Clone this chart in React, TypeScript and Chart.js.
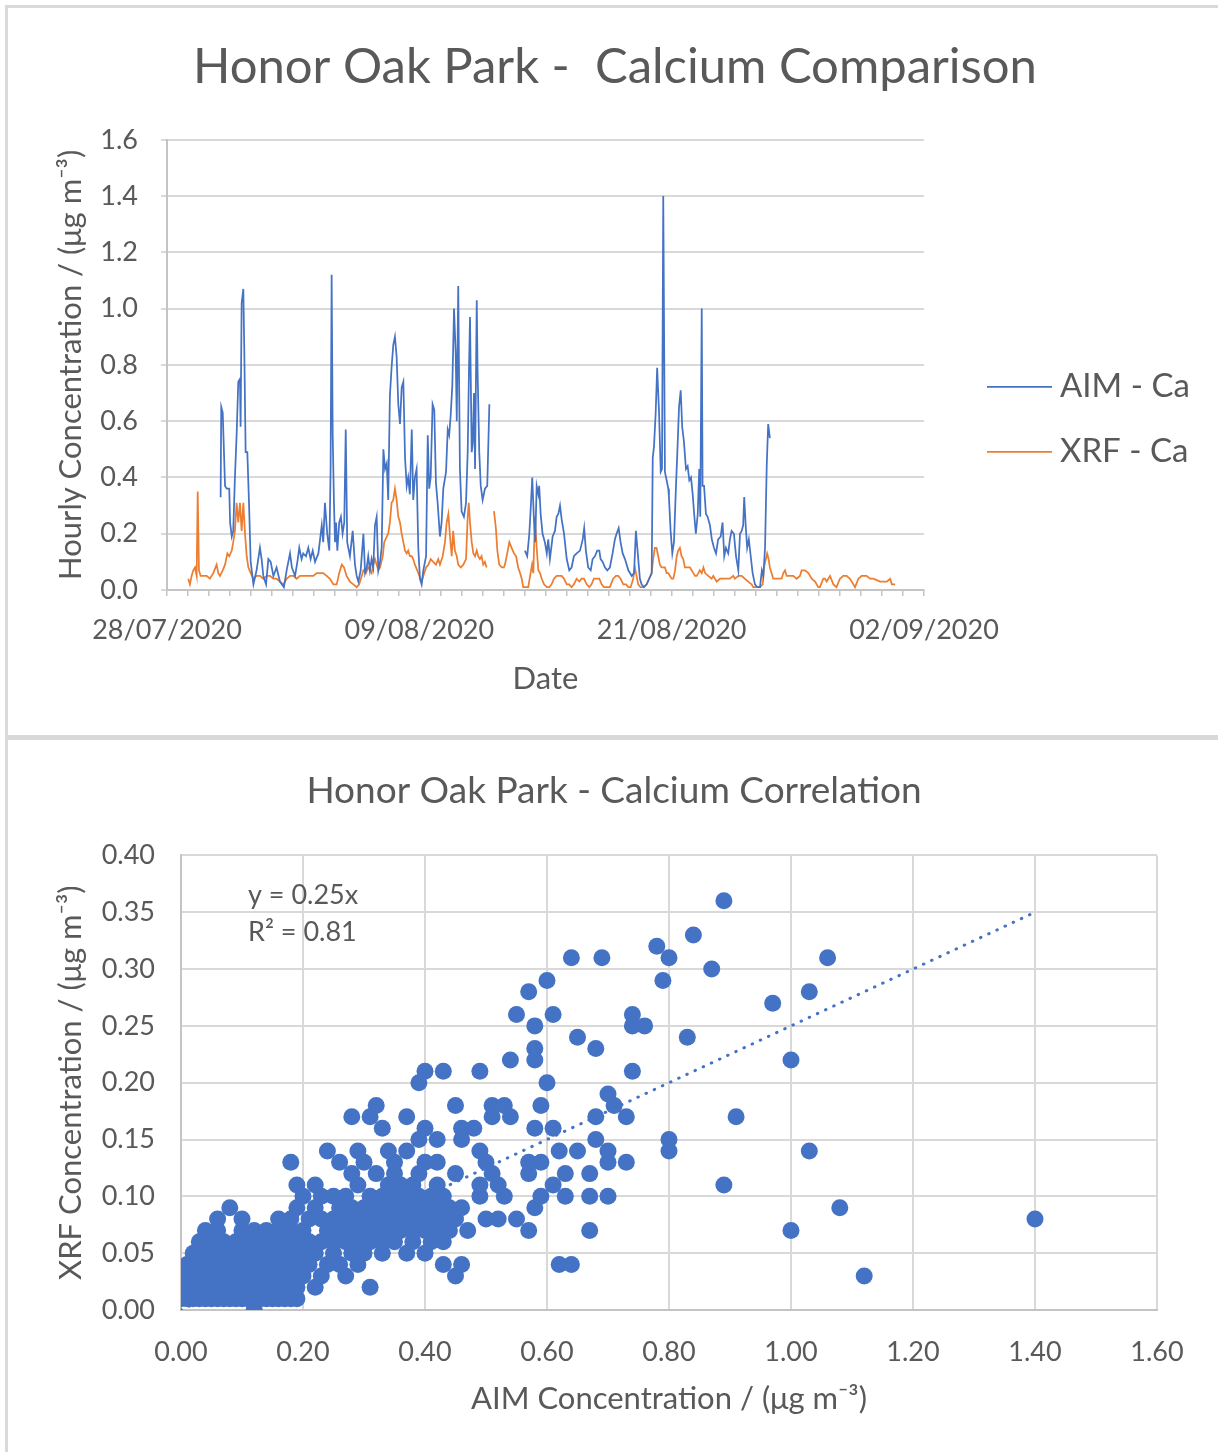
import React, { useEffect, useRef } from 'react';
import { Chart, registerables } from 'chart.js';

Chart.register(...registerables);

const FONT = 'Lato, "Open Sans", "DejaVu Sans", sans-serif';
const TEXT = '#595959';
const GRID = '#d9d9d9';
const AXIS = '#c4c4c4';
const BLUE = '#4472C4';
const ORANGE = '#ED7D31';

// ---------- Top chart: time series (days since 28/07/2020) ----------
const dateTickDays = [0, 12, 24, 36];
const dateTickLabels = ['28/07/2020', '09/08/2020', '21/08/2020', '02/09/2020'];

const aimDays = [
  2.55, 2.58, 2.65, 2.76, 2.84, 2.96, 3.0, 3.08, 3.15, 3.23, 3.31, 3.39, 3.47, 3.5, 3.55, 3.63, 3.68, 3.74, 3.82, 3.9,
  3.98, 4.11, 4.26, 4.42, 4.5, 4.58, 4.71, 4.82, 4.93, 5.06, 5.21, 5.37, 5.56, 5.69, 5.85, 5.94, 6.09, 6.2, 6.29, 6.4,
  6.48, 6.61, 6.72, 6.83, 6.93, 7.04, 7.2, 7.36, 7.43, 7.51, 7.62, 7.72, 7.78, 7.83, 7.88, 7.94, 7.99, 8.04, 8.1, 8.19,
  8.27, 8.35, 8.43, 8.5, 8.57, 8.7, 8.83, 8.94, 9.02, 9.1, 9.21, 9.34, 9.42, 9.5, 9.57, 9.65, 9.73, 9.81, 9.89, 9.97,
  10.05, 10.13, 10.21, 10.29, 10.37, 10.45, 10.52, 10.6, 10.68, 10.76, 10.84, 10.92, 11.0, 11.08, 11.16, 11.24, 11.32, 11.4, 11.47, 11.55,
  11.64, 11.71, 11.79, 11.87, 11.95, 12.03, 12.11, 12.19, 12.32, 12.4, 12.47, 12.54, 12.63, 12.71, 12.79, 12.87, 12.98, 13.06, 13.14, 13.27,
  13.35, 13.42, 13.49, 13.57, 13.65, 13.73, 13.78, 13.85, 13.93, 14.01, 14.12, 14.22, 14.3, 14.36, 14.41, 14.49, 14.54, 14.6, 14.65, 14.73,
  14.77, 14.85, 14.92, 15.01, 15.12, 15.23, 15.33, 16.2,
  17.02, 17.13, 17.23, 17.29, 17.37, 17.45, 17.51, 17.58, 17.66, 17.7, 17.77, 17.86, 17.97, 18.06, 18.13, 18.21, 18.34, 18.45, 18.53, 18.61,
  18.69, 18.77, 18.88, 19.01, 19.13, 19.24, 19.35, 19.48, 19.64, 19.77, 19.84, 19.92, 20.03, 20.15, 20.24, 20.35, 20.46, 20.56, 20.62, 20.72,
  20.83, 20.94, 21.06, 21.19, 21.3, 21.38, 21.48, 21.57, 21.67, 21.78, 21.94, 22.1, 22.21, 22.3, 22.41, 22.49, 22.57, 22.68, 22.81, 22.93,
  23.05, 23.1, 23.16, 23.24, 23.31, 23.4, 23.48, 23.54, 23.6, 23.68, 23.76, 23.84, 23.87, 23.95, 24.03, 24.11, 24.2, 24.27, 24.35, 24.43,
  24.5, 24.58, 24.68, 24.76, 24.84, 24.92, 25.0, 25.07, 25.15, 25.24, 25.31, 25.36, 25.43, 25.47, 25.54, 25.63, 25.71, 25.82, 25.91, 26.01,
  26.11, 26.21, 26.33, 26.42, 26.5, 26.58, 26.69, 26.77, 26.85, 26.96, 27.06, 27.17, 27.25, 27.33, 27.4, 27.45, 27.52, 27.59, 27.67, 27.76,
  27.85, 27.96, 28.07, 28.2, 28.29, 28.36, 28.44, 28.52, 28.59, 28.67,
];
const aimValues = [
  0.33, 0.65, 0.63, 0.37, 0.36, 0.36, 0.24, 0.19, 0.21, 0.4, 0.55, 0.74, 0.75, 0.58, 1.02, 1.07, 0.83, 0.49, 0.49, 0.31,
  0.1, 0.02, 0.07, 0.15, 0.11, 0.05, 0.02, 0.11, 0.1, 0.05, 0.08, 0.03, 0.01, 0.07, 0.13, 0.08, 0.05, 0.1, 0.15, 0.11,
  0.13, 0.12, 0.15, 0.11, 0.14, 0.1, 0.13, 0.23, 0.17, 0.31, 0.2, 0.14, 0.43, 1.12, 0.55, 0.31, 0.17, 0.24, 0.14, 0.24,
  0.26, 0.2, 0.24, 0.57, 0.17, 0.12, 0.21, 0.09, 0.05, 0.03, 0.07, 0.2, 0.06, 0.08, 0.12, 0.07, 0.11, 0.08, 0.23, 0.26,
  0.07, 0.1, 0.15, 0.5, 0.43, 0.45, 0.32, 0.69, 0.79, 0.87, 0.9, 0.83, 0.66, 0.59, 0.72, 0.74, 0.47, 0.37, 0.4, 0.34,
  0.57, 0.32, 0.4, 0.43, 0.15, 0.04, 0.02, 0.07, 0.12, 0.55, 0.36, 0.4, 0.66, 0.64, 0.38, 0.31, 0.19, 0.24, 0.36, 0.42,
  0.57, 0.55, 0.62, 0.73, 1.0, 0.84, 0.6, 1.08, 0.43, 0.28, 0.26, 0.31, 0.49, 0.78, 0.97, 0.49, 0.52, 0.7, 0.43, 1.03,
  0.78, 0.49, 0.37, 0.32, 0.36, 0.37, 0.66, null,
  0.14, 0.12, 0.2, 0.28, 0.4, 0.25, 0.17, 0.37, 0.34, 0.37, 0.27, 0.2, 0.17, 0.13, 0.18, 0.11, 0.19, 0.21, 0.26, 0.27,
  0.3, 0.25, 0.2, 0.11, 0.07, 0.08, 0.12, 0.13, 0.14, 0.18, 0.22, 0.14, 0.08, 0.07, 0.11, 0.12, 0.14, 0.14, 0.11, 0.1,
  0.08, 0.07, 0.08, 0.13, 0.18, 0.2, 0.22, 0.17, 0.13, 0.11, 0.07, 0.05, 0.06, 0.21, 0.11, 0.04, 0.02, 0.01, 0.02, 0.04,
  0.06, 0.47, 0.51, 0.63, 0.79, 0.63, 0.42, 0.43, 1.4, 0.42, 0.39, 0.36, 0.33, 0.21, 0.13, 0.17, 0.36, 0.49, 0.65, 0.71,
  0.58, 0.53, 0.43, 0.44, 0.39, 0.4, 0.34, 0.27, 0.2, 0.27, 0.43, 0.26, 1.0, 0.37, 0.37, 0.27, 0.26, 0.23, 0.18, 0.15,
  0.13, 0.18, 0.19, 0.24, 0.12, 0.15, 0.13, 0.18, 0.21, 0.2, 0.12, 0.07, 0.2, 0.21, 0.23, 0.33, 0.23, 0.15, 0.18, 0.12,
  0.06, 0.02, 0.01, 0.01, 0.07, 0.05, 0.15, 0.44, 0.59, 0.54,
];

const xrfDays = [
  1.01, 1.09, 1.17, 1.25, 1.33, 1.41, 1.46, 1.52, 1.6, 1.73, 1.89, 2.04, 2.2, 2.36, 2.44, 2.52, 2.65, 2.76, 2.87, 2.96,
  3.08, 3.15, 3.23, 3.31, 3.39, 3.47, 3.55, 3.63, 3.71, 3.79, 3.87, 3.98, 4.11, 4.26, 4.42, 4.58, 4.74, 4.9, 5.06, 5.21,
  5.37, 5.53, 5.69, 5.85, 6.01, 6.17, 6.32, 6.48, 6.64, 6.8, 6.96, 7.12, 7.28, 7.43, 7.59, 7.75, 7.91, 8.07, 8.19, 8.31,
  8.42, 8.54, 8.7, 8.86, 9.02, 9.14, 9.26, 9.34, 9.46, 9.57, 9.73, 9.81, 9.89, 10.05, 10.13, 10.26, 10.33, 10.45, 10.52, 10.6,
  10.68, 10.76, 10.84, 10.92, 11.0, 11.08, 11.16, 11.24, 11.32, 11.4, 11.47, 11.55, 11.64, 11.71, 11.79, 11.9, 12.0, 12.11, 12.19, 12.32,
  12.43, 12.54, 12.66, 12.79, 12.9, 12.98, 13.11, 13.22, 13.3, 13.38, 13.46, 13.54, 13.61, 13.69, 13.78, 13.85, 13.97, 14.09, 14.22, 14.3,
  14.35, 14.41, 14.49, 14.57, 14.65, 14.73, 14.8, 14.88, 14.96, 15.04, 15.12, 15.2, 15.38,
  15.55, 15.64, 15.71, 15.8, 15.92, 16.02, 16.07, 16.18, 16.28, 16.39, 16.5, 16.6, 16.7, 16.79, 16.87, 16.94, 17.07, 17.18, 17.29, 17.36,
  17.42, 17.5, 17.58, 17.66, 17.74, 17.82, 17.93, 18.06, 18.18, 18.29, 18.4, 18.53, 18.65, 18.77, 18.88, 19.01, 19.13, 19.24, 19.35, 19.48,
  19.61, 19.72, 19.83, 19.96, 20.08, 20.19, 20.3, 20.43, 20.56, 20.67, 20.78, 20.91, 21.06, 21.22, 21.35, 21.46, 21.57, 21.7, 21.83, 21.94,
  22.05, 22.17, 22.25, 22.33, 22.41, 22.52, 22.65, 22.81, 22.93, 23.05, 23.12, 23.2, 23.28, 23.36, 23.44, 23.52, 23.6, 23.68, 23.76, 23.84,
  23.92, 24.0, 24.08, 24.16, 24.24, 24.31, 24.39, 24.47, 24.55, 24.63, 24.71, 24.87, 24.95, 25.03, 25.11, 25.19, 25.27, 25.34, 25.43, 25.51,
  25.59, 25.74, 25.9, 25.98, 26.14, 26.3, 26.45, 26.61, 26.77, 26.93, 27.01, 27.17, 27.33, 27.48, 27.64, 27.8, 27.88, 28.04, 28.2, 28.33,
  28.39, 28.48, 28.54, 28.61, 28.67, 28.75, 28.83, 28.99, 29.15, 29.23, 29.31, 29.39, 29.47, 29.62, 29.78, 29.94, 30.1, 30.18, 30.34, 30.5,
  30.66, 30.82, 30.97, 31.05, 31.21, 31.29, 31.37, 31.53, 31.69, 31.84, 32.0, 32.16, 32.32, 32.48, 32.64, 32.72, 32.88, 33.03, 33.27, 33.43,
  33.59, 33.91, 34.23, 34.39, 34.47, 34.63,
];
const xrfValues = [
  0.04, 0.02, 0.05, 0.07, 0.08, 0.05, 0.35, 0.07, 0.05, 0.05, 0.05, 0.04, 0.06, 0.09, 0.06, 0.05, 0.07, 0.09, 0.13, 0.12,
  0.14, 0.17, 0.21, 0.31, 0.24, 0.31, 0.21, 0.31, 0.2, 0.12, 0.08, 0.06, 0.04, 0.05, 0.05, 0.04, 0.05, 0.05, 0.04, 0.04,
  0.03, 0.02, 0.04, 0.05, 0.05, 0.04, 0.05, 0.05, 0.05, 0.05, 0.05, 0.06, 0.06, 0.06, 0.05, 0.04, 0.02, 0.02, 0.06, 0.09,
  0.08, 0.05, 0.03, 0.02, 0.01, 0.02, 0.05, 0.07, 0.06, 0.08, 0.06, 0.09, 0.11, 0.07, 0.08, 0.12, 0.17, 0.19, 0.2, 0.24,
  0.31, 0.32, 0.36, 0.32, 0.26, 0.24, 0.2, 0.17, 0.14, 0.13, 0.14, 0.12, 0.12, 0.11, 0.09, 0.07, 0.05, 0.03, 0.05, 0.08,
  0.09, 0.11, 0.1, 0.09, 0.11, 0.09, 0.12, 0.17, 0.24, 0.27, 0.19, 0.12, 0.21, 0.14, 0.12, 0.09, 0.08, 0.09, 0.11, 0.26,
  0.31, 0.24, 0.17, 0.13, 0.12, 0.14, 0.12, 0.11, 0.12, 0.09, 0.1, 0.08, null,
  0.28, 0.22, 0.14, 0.09, 0.08, 0.08, 0.09, 0.13, 0.17, 0.15, 0.13, 0.12, 0.08, 0.06, 0.04, 0.01, 0.01, 0.01, 0.06, 0.09,
  0.06, 0.26, 0.15, 0.07, 0.06, 0.04, 0.02, 0.01, 0.01, 0.02, 0.04, 0.05, 0.05, 0.05, 0.04, 0.02, 0.02, 0.01, 0.02, 0.04,
  0.03, 0.04, 0.04, 0.02, 0.01, 0.02, 0.04, 0.04, 0.04, 0.02, 0.01, 0.01, 0.01, 0.04, 0.05, 0.05, 0.04, 0.02, 0.02, 0.01,
  0.01, 0.04, 0.08, 0.05, 0.02, 0.01, 0.01, 0.02, 0.04, 0.06, 0.11, 0.15, 0.15, 0.12, 0.09, 0.08, 0.08, 0.08, 0.06, 0.06,
  0.05, 0.04, 0.04, 0.07, 0.12, 0.14, 0.15, 0.12, 0.11, 0.08, 0.08, 0.08, 0.07, 0.06, 0.05, 0.05, 0.06, 0.07, 0.06, 0.08,
  0.06, 0.05, 0.04, 0.05, 0.03, 0.04, 0.04, 0.04, 0.04, 0.05, 0.04, 0.05, 0.05, 0.04, 0.03, 0.02, 0.01, 0.01, 0.01, 0.02,
  0.08, 0.11, 0.13, 0.11, 0.08, 0.06, 0.04, 0.04, 0.04, 0.04, 0.06, 0.07, 0.05, 0.05, 0.05, 0.04, 0.05, 0.07, 0.07, 0.06,
  0.04, 0.03, 0.01, 0.01, 0.04, 0.04, 0.03, 0.05, 0.02, 0.01, 0.04, 0.05, 0.05, 0.04, 0.02, 0.01, 0.04, 0.05, 0.05, 0.04,
  0.04, 0.03, 0.03, 0.04, 0.02, 0.02,
];

// ---------- Bottom chart: correlation scatter ----------
const xrfLevels = [
  0.0, 0.01, 0.02, 0.03, 0.04, 0.05, 0.06, 0.07, 0.08, 0.09, 0.1, 0.11, 0.12, 0.13, 0.14, 0.15, 0.16, 0.17, 0.18,
  0.19, 0.2, 0.21, 0.22, 0.23, 0.24, 0.25, 0.26, 0.27, 0.28, 0.29, 0.3, 0.31, 0.32, 0.33, 0.36,
];
const aimAtLevel = [
  [0.12],
  [0.0, 0.01, 0.02, 0.03, 0.04, 0.05, 0.06, 0.07, 0.08, 0.09, 0.1, 0.11, 0.13, 0.14, 0.15, 0.16, 0.17, 0.18, 0.19],
  [0.01, 0.03, 0.05, 0.07, 0.09, 0.11, 0.13, 0.15, 0.17, 0.19, 0.22, 0.31],
  [0.0, 0.02, 0.04, 0.06, 0.08, 0.1, 0.12, 0.14, 0.16, 0.18, 0.2, 0.23, 0.27, 0.45, 1.12],
  [0.01, 0.03, 0.05, 0.07, 0.09, 0.11, 0.13, 0.15, 0.17, 0.19, 0.21, 0.24, 0.26, 0.29, 0.43, 0.46, 0.62, 0.64],
  [0.02, 0.04, 0.06, 0.08, 0.1, 0.12, 0.14, 0.16, 0.18, 0.2, 0.22, 0.25, 0.28, 0.3, 0.33, 0.37, 0.4],
  [0.03, 0.05, 0.07, 0.09, 0.11, 0.13, 0.15, 0.17, 0.19, 0.21, 0.23, 0.25, 0.27, 0.29, 0.31, 0.33, 0.35, 0.38, 0.41, 0.43],
  [0.04, 0.06, 0.1, 0.12, 0.14, 0.16, 0.18, 0.2, 0.24, 0.26, 0.28, 0.3, 0.32, 0.34, 0.36, 0.38, 0.4, 0.42, 0.44, 0.47, 0.57, 0.67, 1.0],
  [0.06, 0.1, 0.16, 0.18, 0.21, 0.23, 0.25, 0.27, 0.29, 0.31, 0.33, 0.35, 0.37, 0.39, 0.41, 0.43, 0.45, 0.5, 0.52, 0.55, 1.4],
  [0.08, 0.19, 0.22, 0.26, 0.28, 0.3, 0.32, 0.34, 0.36, 0.38, 0.4, 0.42, 0.44, 0.46, 0.58, 1.08],
  [0.2, 0.23, 0.25, 0.27, 0.31, 0.33, 0.35, 0.37, 0.39, 0.41, 0.43, 0.49, 0.53, 0.59, 0.63, 0.67, 0.7],
  [0.19, 0.22, 0.29, 0.34, 0.36, 0.38, 0.42, 0.49, 0.52, 0.61, 0.89],
  [0.28, 0.32, 0.35, 0.39, 0.45, 0.51, 0.57, 0.63, 0.67],
  [0.18, 0.26, 0.3, 0.35, 0.4, 0.42, 0.5, 0.57, 0.59, 0.7, 0.73],
  [0.24, 0.29, 0.34, 0.37, 0.49, 0.62, 0.65, 0.7, 0.8, 1.03],
  [0.39, 0.42, 0.46, 0.68, 0.8],
  [0.33, 0.4, 0.46, 0.48, 0.58, 0.61],
  [0.28, 0.31, 0.37, 0.51, 0.54, 0.68, 0.73, 0.91],
  [0.32, 0.45, 0.51, 0.53, 0.59, 0.71],
  [0.7],
  [0.39, 0.6],
  [0.4, 0.43, 0.49, 0.74],
  [0.54, 0.58, 1.0],
  [0.58, 0.68],
  [0.65, 0.83],
  [0.58, 0.74, 0.76],
  [0.55, 0.61, 0.74],
  [0.97],
  [0.57, 1.03],
  [0.6, 0.79],
  [0.87],
  [0.64, 0.69, 0.8, 1.06],
  [0.78],
  [0.84],
  [0.89],
];
const trendX = [0, 1.4];
const trendY = [0, 0.35];
const trendEquation = 'y = 0.25x';
const trendR2 = 'R² = 0.81';

function seriesLegendPlugin(offsetX: number, firstY: number, gap: number) {
  return {
    id: 'seriesLegend',
    afterDraw(chart: any) {
      const ctx = chart.ctx;
      const { right, top } = chart.chartArea;
      chart.data.datasets.forEach((ds: any, i: number) => {
        const y = top + firstY + i * gap;
        const x0 = right + offsetX;
        ctx.save();
        ctx.strokeStyle = ds.borderColor;
        ctx.lineWidth = 1.75;
        ctx.beginPath();
        ctx.moveTo(x0, y);
        ctx.lineTo(x0 + 65, y);
        ctx.stroke();
        ctx.fillStyle = TEXT;
        ctx.font = `33px ${FONT}`;
        ctx.textBaseline = 'middle';
        ctx.textAlign = 'left';
        ctx.fillText(ds.label, x0 + 73, y);
        ctx.restore();
      });
    },
  };
}

const trendLabelPlugin = {
  id: 'trendLabel',
  afterDraw(chart: any) {
    const ctx = chart.ctx;
    const { left, top } = chart.chartArea;
    ctx.save();
    ctx.fillStyle = TEXT;
    ctx.font = `27px ${FONT}`;
    ctx.textBaseline = 'middle';
    ctx.textAlign = 'left';
    ctx.fillText(trendEquation, left + 67, top + 40);
    ctx.fillText(trendR2, left + 67, top + 77);
    ctx.restore();
  },
};

const dayTicks: number[] = [];
for (let d = 0; d <= 36; d++) dayTicks.push(d);

function TopChart() {
  const ref = useRef<HTMLCanvasElement>(null);
  useEffect(() => {
    const tickFont = { family: FONT, size: 27 };
    const titleFont = { family: FONT, size: 31 };
    const chart = new Chart(ref.current as HTMLCanvasElement, {
      type: 'line',
      data: {
        datasets: [
          {
            label: 'AIM - Ca',
            data: aimDays.map((d, i) => ({ x: d, y: aimValues[i] })),
            borderColor: BLUE,
            backgroundColor: BLUE,
            borderWidth: 1.75,
            pointRadius: 0,
            tension: 0,
            spanGaps: false,
          },
          {
            label: 'XRF - Ca',
            data: xrfDays.map((d, i) => ({ x: d, y: xrfValues[i] })),
            borderColor: ORANGE,
            backgroundColor: ORANGE,
            borderWidth: 1.75,
            pointRadius: 0,
            tension: 0,
            spanGaps: false,
          },
        ],
      } as any,
      options: {
        responsive: false,
        animation: false,
        events: [],
        layout: { padding: { left: 12, top: 0, right: 0, bottom: 0 } },
        plugins: {
          legend: { display: false },
          tooltip: { enabled: false },
          title: {
            display: true,
            text: 'Honor Oak Park -  Calcium Comparison',
            color: TEXT,
            font: { family: FONT, size: 49, weight: 'normal', lineHeight: 1.2 },
            padding: { top: 38, bottom: 43 },
          },
        },
        scales: {
          x: {
            type: 'linear',
            min: 0,
            max: 36,
            afterBuildTicks: (s: any) => {
              s.ticks = dayTicks.map((v) => ({ value: v }));
            },
            afterFit: (s: any) => {
              s.height = 147;
            },
            ticks: {
              autoSkip: false,
              maxRotation: 0,
              color: TEXT,
              font: tickFont,
              padding: 18,
              callback: (v: any) => {
                const i = dateTickDays.indexOf(Number(v));
                return i >= 0 ? dateTickLabels[i] : '';
              },
            },
            grid: { drawOnChartArea: false, drawTicks: true, tickLength: 6, color: AXIS, lineWidth: 1.5 },
            border: { color: AXIS, width: 2 },
            title: { display: true, text: 'Date', color: TEXT, font: titleFont, padding: { top: 0, bottom: 39 } },
          },
          y: {
            min: 0,
            max: 1.6,
            afterFit: (s: any) => {
              s.width = 155;
            },
            ticks: {
              stepSize: 0.2,
              color: TEXT,
              font: tickFont,
              padding: 23,
              callback: (v: any) => Number(v).toFixed(1),
            },
            grid: { color: GRID, lineWidth: 2, drawTicks: true, tickLength: 6 },
            border: { color: AXIS, width: 2 },
            title: {
              display: true,
              text: 'Hourly Concentration / (μg m⁻³)',
              color: TEXT,
              font: titleFont,
              padding: { top: 40, bottom: 0 },
            },
          },
          yRight: {
            type: 'linear',
            position: 'right',
            display: true,
            afterFit: (s: any) => {
              s.width = 294;
            },
            grid: { display: false },
            ticks: { display: false },
            border: { display: false },
          },
        },
      } as any,
      plugins: [seriesLegendPlugin(63, 247, 65)],
    });
    return () => chart.destroy();
  }, []);
  return (
    <canvas
      ref={ref}
      width={1218}
      height={737}
      style={{ position: 'absolute', left: 0, top: 0, width: 1218, height: 737, display: 'block' }}
    />
  );
}

function BottomChart() {
  const ref = useRef<HTMLCanvasElement>(null);
  useEffect(() => {
    const tickFont = { family: FONT, size: 27 };
    const titleFont = { family: FONT, size: 31 };
    const points: { x: number; y: number }[] = [];
    xrfLevels.forEach((lvl, i) => {
      aimAtLevel[i].forEach((a) => points.push({ x: a, y: lvl }));
    });
    const chart = new Chart(ref.current as HTMLCanvasElement, {
      type: 'scatter',
      data: {
        datasets: [
          {
            label: 'XRF vs AIM - Ca',
            data: points,
            backgroundColor: BLUE,
            borderColor: BLUE,
            pointRadius: 8.5,
            pointBorderWidth: 0,
            order: 0,
          },
          {
            type: 'line',
            label: 'Linear (XRF vs AIM - Ca)',
            data: trendX.map((x, i) => ({ x, y: trendY[i] })),
            borderColor: BLUE,
            borderWidth: 3,
            borderDash: [0.5, 8.5],
            borderCapStyle: 'round',
            pointRadius: 0,
            showLine: true,
            order: 1,
          },
        ],
      } as any,
      options: {
        responsive: false,
        animation: false,
        events: [],
        layout: { padding: { left: 10, top: 0, right: 0, bottom: 0 } },
        plugins: {
          legend: { display: false },
          tooltip: { enabled: false },
          title: {
            display: true,
            text: 'Honor Oak Park - Calcium Correlation',
            color: TEXT,
            font: { family: FONT, size: 37, weight: 'normal', lineHeight: 1.2 },
            padding: { top: 29, bottom: 42 },
          },
        },
        scales: {
          x: {
            type: 'linear',
            min: 0,
            max: 1.6,
            afterFit: (s: any) => {
              s.height = 142;
            },
            ticks: {
              stepSize: 0.2,
              color: TEXT,
              font: tickFont,
              padding: 26,
              maxRotation: 0,
              callback: (v: any) => Number(v).toFixed(2),
            },
            grid: { color: GRID, lineWidth: 2, drawTicks: false },
            border: { color: AXIS, width: 2 },
            title: {
              display: true,
              text: 'AIM Concentration / (μg m⁻³)',
              color: TEXT,
              font: titleFont,
              padding: { top: 0, bottom: 34 },
            },
          },
          y: {
            min: 0,
            max: 0.4,
            afterFit: (s: any) => {
              s.width = 171;
            },
            ticks: {
              stepSize: 0.05,
              color: TEXT,
              font: tickFont,
              padding: 26,
              callback: (v: any) => Number(v).toFixed(2),
            },
            grid: { color: GRID, lineWidth: 2, drawTicks: false },
            border: { color: AXIS, width: 2 },
            title: {
              display: true,
              text: 'XRF Concentration / (μg m⁻³)',
              color: TEXT,
              font: titleFont,
              padding: { top: 42, bottom: 0 },
            },
          },
          yRight: {
            type: 'linear',
            position: 'right',
            display: true,
            afterFit: (s: any) => {
              s.width = 61;
            },
            grid: { display: false },
            ticks: { display: false },
            border: { display: false },
          },
        },
      } as any,
      plugins: [trendLabelPlugin],
    });
    return () => chart.destroy();
  }, []);
  return (
    <canvas
      ref={ref}
      width={1218}
      height={712}
      style={{ position: 'absolute', left: 0, top: 740, width: 1218, height: 712, display: 'block' }}
    />
  );
}

export default function App() {
  return (
    <div
      style={{
        position: 'absolute',
        left: 0,
        top: 0,
        width: 1218,
        height: 1452,
        overflow: 'hidden',
        background: '#ffffff',
      }}
    >
      <div
        style={{
          position: 'absolute',
          left: 5,
          top: 5,
          width: 1240,
          height: 727,
          border: '3px solid #d9d9d9',
        }}
      />
      <div
        style={{
          position: 'absolute',
          left: 5,
          top: 737,
          width: 1240,
          height: 740,
          border: '3px solid #d9d9d9',
        }}
      />
      <TopChart />
      <BottomChart />
    </div>
  );
}
